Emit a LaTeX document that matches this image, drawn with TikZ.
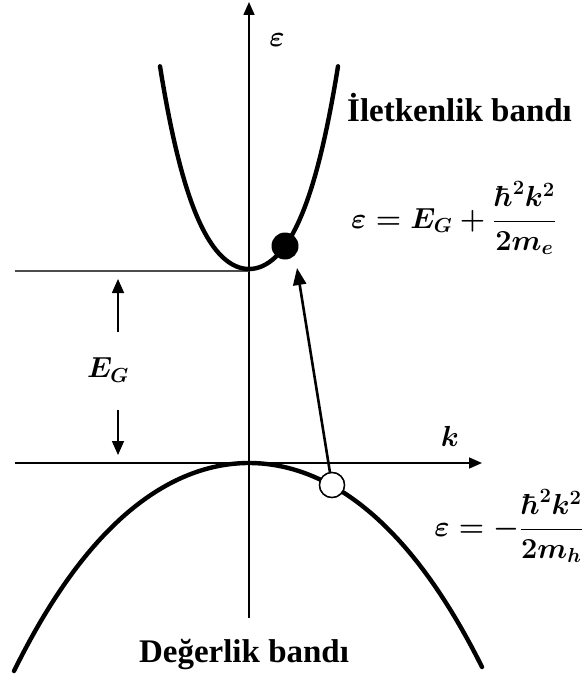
\RequirePackage{fix-cm}
\documentclass[tikz,border=0pt]{standalone}
\usepackage{amsmath, bm}
\usepackage[no-math]{fontspec}
\setmainfont{Liberation Serif}
\usetikzlibrary{arrows.meta, positioning}
\tikzset{
  axisline/.style={line width=1.6pt, draw=black},
  axisarr/.style={axisline, -{Triangle[length=13pt, width=11pt]}},
  levelline/.style={line width=1.8pt, draw=black!70},
  bandline/.style={line width=4.4pt, draw=black, line cap=round},
  gaparr/.style={line width=1.6pt, -{Triangle[length=14pt, width=12pt]}},
  jumparr/.style={line width=2.6pt, -{Triangle[length=17pt, width=13pt]}},
  elecdot/.style={circle, fill=black, minimum size=27pt, inner sep=0pt},
  holedot/.style={circle, draw=black, line width=1.4pt, fill=white,
                  minimum size=25pt, inner sep=0pt},
  bandlabel/.style={font=\fontsize{33}{39}\selectfont\bfseries, inner sep=0pt},
  mathlabel/.style={font=\fontsize{29}{34}\selectfont\boldmath, inner sep=0pt}
}

\begin{document}
\begin{tikzpicture}[x=1pt, y=-1pt]
\useasboundingbox (0,0) rectangle (584,679);

% ── Axes ────────────────────────────────────────────────────
\coordinate (ebot) at (249,618);
\coordinate (etop) at (249,2);
\coordinate (kleft) at (15,463);
\coordinate (kright) at (482,463);
\coordinate (cleft) at (15,271);
\coordinate (cmin) at (249,271);

\draw[axisarr] (ebot) -- (etop);
\draw[axisarr] (kleft) -- (kright);
\draw[levelline] (cleft) -- (cmin);

\node[mathlabel] (epslab) at (277,40) {$\varepsilon$};
\node[mathlabel] (klab) at (450,436) {$k$};

% ── Bands ───────────────────────────────────────────────────
\draw[bandline] plot[domain=-89:89, samples=80]
  (\x+249, {269-162.1*((\x/100)*(\x/100))
                -118.4*((\x/100)*(\x/100))*((\x/100)*(\x/100))});
\draw[bandline] plot[domain=-235:233, samples=90]
  (\x+249, {463+32.18*((\x/100)*(\x/100))
                +0.994*((\x/100)*(\x/100))*((\x/100)*(\x/100))});

% ── Energy gap ──────────────────────────────────────────────
\node[mathlabel] (eg) at (108,370) {$E_G$};
\coordinate (gapupfrom) at (118,332);
\coordinate (gapupto) at (118,279);
\coordinate (gapdnfrom) at (118,410);
\coordinate (gapdnto) at (118,455);
\draw[gaparr] (gapupfrom) -- (gapupto);
\draw[gaparr] (gapdnfrom) -- (gapdnto);

% ── Electron, hole and transition ───────────────────────────
\node[elecdot] (elec) at (285,246) {};
\node[holedot] (hole) at (332,485) {};
\coordinate (tip) at (297,268);
\draw[jumparr] (hole) -- (tip);
\node[holedot] at (hole) {};

% ── Labels ──────────────────────────────────────────────────
\node[bandlabel, anchor=base west] (cband) at (347,122) {İletkenlik bandı};
\node[mathlabel, anchor=west] (cform) at (351,218)
  {$\varepsilon = E_G + \dfrac{\hbar^2 k^2}{2m_e}$};
\node[mathlabel, anchor=east] (vform) at (583,526)
  {$\varepsilon = -\dfrac{\hbar^2 k^2}{2m_h}$};
\node[bandlabel, anchor=base] (vband) at (244,662) {Değerlik bandı};

\end{tikzpicture}
\end{document}
